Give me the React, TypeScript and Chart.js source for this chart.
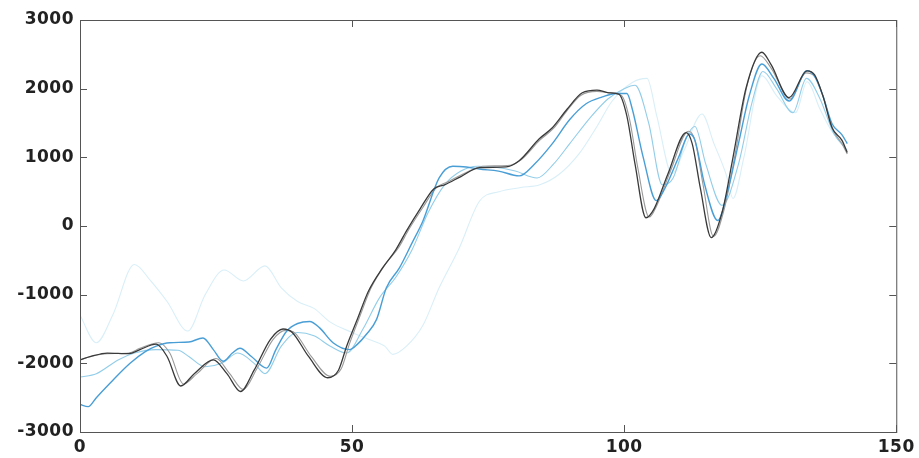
import React, { useEffect, useRef } from "react";
import { Chart, registerables } from "chart.js";

Chart.register(...registerables);

// Axis ranges and tick values
const xTicks = [0, 50, 100, 150];
const yTicks = [-3000, -2000, -1000, 0, 1000, 2000, 3000];

// Series 1 (dark)
const darkX = [0, 2, 5, 9, 11, 14, 16, 18.5, 21, 24.5, 27, 29.5, 32, 35, 37.3, 39, 42, 45.5, 47.5, 49, 51, 53, 55.6, 58, 60, 62.5, 65, 67, 70, 73.4, 78.3, 80.7, 84.4, 86.8, 89.5, 92.3, 95, 97.2, 99, 100.5, 102, 104, 105.5, 108, 111.4, 112.5, 114, 116, 118, 120, 122.4, 125.3, 127, 130.3, 133.6, 135, 136.5, 138.2, 140, 141];
const darkY = [-1950, -1900, -1850, -1860, -1800, -1720, -1900, -2330, -2150, -1950, -2150, -2410, -2100, -1650, -1500, -1550, -1900, -2210, -2100, -1750, -1350, -950, -610, -350, -70, 250, 540, 600, 720, 850, 860, 950, 1270, 1430, 1700, 1940, 1980, 1940, 1920, 1600, 900, 120, 250, 750, 1360, 1200, 550, -170, 200, 1000, 2010, 2530, 2350, 1870, 2260, 2200, 1900, 1430, 1250, 1070];

// Series 2 (gray)
const grayX = [0, 2, 5, 9, 11, 14.5, 16.5, 19, 21.5, 25, 27.5, 30, 32.5, 35.5, 37.8, 39.5, 42.5, 46, 48, 49.5, 51.5, 53.5, 56, 58.5, 60.5, 63, 65.5, 67.5, 70.5, 74, 78.5, 81, 84.5, 87, 89.5, 92, 95, 97.5, 99.5, 101, 102.5, 104.6, 106, 108.5, 111.8, 113, 114.5, 116.4, 118.4, 120.4, 122.6, 125, 127, 130.5, 133.4, 135, 136.6, 138.4, 140, 141];
const grayY = [-1950, -1900, -1860, -1850, -1780, -1700, -1850, -2300, -2150, -1930, -2150, -2380, -2080, -1650, -1520, -1560, -1900, -2190, -2080, -1720, -1300, -900, -570, -320, -40, 270, 560, 640, 760, 870, 880, 960, 1250, 1420, 1680, 1900, 1960, 1940, 1900, 1550, 850, 130, 300, 800, 1380, 1250, 600, -150, 250, 1050, 2050, 2480, 2300, 1850, 2230, 2180, 1880, 1400, 1200, 1050];

// Series 3 (blue)
const blueX = [0, 1.5, 3, 6, 9.2, 12, 14, 16.5, 20, 22.6, 24.5, 26.3, 28, 29.4, 31.5, 34.3, 36, 38, 40, 42.2, 44, 46.5, 49.5, 51, 52.6, 54.5, 56.3, 58.7, 61, 63, 66, 68.5, 71, 73.4, 76.9, 80.7, 83.5, 86.8, 90, 93, 96, 98.5, 100.5, 101.5, 103.5, 105.9, 107.5, 110, 112, 113, 114.8, 117.2, 119, 121, 123, 125.3, 127.5, 130.3, 133.6, 135, 136.5, 138.2, 140, 141];
const blueY = [-2600, -2630, -2500, -2250, -2000, -1830, -1750, -1700, -1690, -1630, -1800, -1970, -1850, -1780, -1900, -2070, -1800, -1530, -1420, -1390, -1480, -1700, -1800, -1720, -1580, -1360, -900, -610, -250, 70, 700, 870, 860, 830, 800, 730, 900, 1200, 1550, 1780, 1880, 1930, 1930, 1700, 1000, 370, 550, 1000, 1340, 1250, 600, 80, 500, 1200, 1900, 2360, 2150, 1820, 2260, 2180, 1900, 1490, 1330, 1200];

// Series 4 (light blue)
const lightX = [0, 3, 7, 10, 14, 18, 20, 23, 26, 29, 32, 34, 37, 40, 43, 46, 49, 52, 55, 58, 61, 64, 67, 70, 73, 76, 80, 84, 87, 90, 94, 97, 100, 102, 104.5, 107, 109, 111.5, 113, 115, 118, 121, 123.5, 125.5, 128, 131, 133.5, 136, 138.5, 141];
const lightY = [-2200, -2150, -1950, -1850, -1800, -1810, -1900, -2050, -2000, -1850, -2000, -2150, -1750, -1550, -1600, -1750, -1850, -1500, -1050, -750, -350, 200, 600, 800, 870, 860, 800, 700, 900, 1200, 1600, 1850, 2000, 2050, 1500, 600, 700, 1300, 1450, 900, 300, 900, 1800, 2250, 2000, 1650, 2150, 1850, 1350, 1100];

// Series 5 (faint cyan, lagged)
const faintX = [0, 3, 6, 10, 13, 16, 19.8, 23, 26.5, 30, 34, 37, 40, 43, 46, 50, 53, 56, 57.5, 60, 63, 66, 69.7, 73.4, 77, 81, 84.5, 88, 91.7, 95, 97.8, 101.5, 104.2, 106, 108.8, 111, 114.3, 116.5, 118.7, 120, 122, 125.3, 128, 131.5, 133.6, 136, 138, 140.7];
const faintY = [-1300, -1700, -1300, -560, -800, -1100, -1530, -1000, -640, -800, -580, -900, -1100, -1200, -1400, -1550, -1650, -1750, -1870, -1750, -1450, -900, -320, 360, 500, 560, 600, 750, 1050, 1450, 1820, 2090, 2150, 1600, 760, 1100, 1630, 1200, 760, 400, 1000, 2190, 1900, 1650, 2100, 1700, 1400, 1140];

const toPoints = (xs: number[], ys: number[]) => xs.map((x, i) => ({ x, y: ys[i] }));

const LEFT = 80;
const TOP = 20;
const RIGHT_GAP = 21;
const BOTTOM_H = 26;

// Slightly opened tick lettering
const spacingPlugin = {
  id: "spacing",
  beforeDraw(chart: any) {
    chart.ctx.letterSpacing = "0.5px";
  },
};

// Box around the plot area with inward ticks on all four sides
const framePlugin = {
  id: "frame",
  afterDatasetsDraw(chart: any) {
    const { ctx, chartArea, scales } = chart;
    const { left, right, top, bottom } = chartArea;
    const len = 7;
    ctx.save();
    ctx.strokeStyle = "#555";
    ctx.lineWidth = 1;
    ctx.strokeRect(left + 0.5, top + 0.5, right - left, bottom - top);
    ctx.beginPath();
    for (const v of yTicks) {
      const y = Math.round(scales.y.getPixelForValue(v)) + 0.5;
      ctx.moveTo(left, y);
      ctx.lineTo(left + len, y);
      ctx.moveTo(right, y);
      ctx.lineTo(right - len, y);
    }
    for (const v of xTicks) {
      const x = Math.round(scales.x.getPixelForValue(v)) + 0.5;
      ctx.moveTo(x, bottom);
      ctx.lineTo(x, bottom - len);
      ctx.moveTo(x, top);
      ctx.lineTo(x, top + len);
    }
    ctx.stroke();
    ctx.restore();
  },
};

export default function App() {
  const ref = useRef<HTMLCanvasElement | null>(null);

  useEffect(() => {
    if (!ref.current) return;
    const font = { family: "'DejaVu Sans', sans-serif", size: 17, weight: "bold" as const };
    const line = (label: string, xs: number[], ys: number[], color: string, width: number, order: number) => ({
      label,
      data: toPoints(xs, ys),
      borderColor: color,
      backgroundColor: color,
      borderWidth: width,
      pointRadius: 0,
      fill: false,
      cubicInterpolationMode: "monotone" as const,
      order,
    });
    const chart = new Chart(ref.current, {
      type: "line",
      data: {
        datasets: [
          line("s1", darkX, darkY, "#3a3a3a", 1.3, 1),
          line("s3", blueX, blueY, "#4a9ed6", 1.4, 2),
          line("s2", grayX, grayY, "#9a9a9a", 1.1, 3),
          line("s4", lightX, lightY, "#92cde9", 1.1, 4),
          line("s5", faintX, faintY, "#d9eff8", 1.1, 5),
        ],
      },
      options: {
        responsive: false,
        animation: false,
        layout: { padding: { left: 0, top: TOP, right: RIGHT_GAP, bottom: 0 } },
        plugins: { legend: { display: false }, tooltip: { enabled: false } },
        scales: {
          x: {
            type: "linear",
            min: 0,
            max: 150,
            afterBuildTicks: (s: any) => {
              s.ticks = xTicks.map((v) => ({ value: v }));
            },
            afterFit: (s: any) => {
              s.height = BOTTOM_H;
            },
            grid: { display: false, drawTicks: false },
            border: { display: false },
            ticks: { font, color: "#222", padding: 5, maxRotation: 0, callback: (v: any) => String(v) },
          },
          y: {
            type: "linear",
            min: -3000,
            max: 3000,
            afterBuildTicks: (s: any) => {
              s.ticks = yTicks.map((v) => ({ value: v }));
            },
            afterFit: (s: any) => {
              s.width = LEFT;
            },
            grid: { display: false, drawTicks: false },
            border: { display: false },
            ticks: { font, color: "#222", padding: 6, callback: (v: any) => String(v) },
          },
        },
      },
      plugins: [spacingPlugin, framePlugin],
    });
    return () => chart.destroy();
  }, []);

  return (
    <div style={{ position: "fixed", left: 0, top: 0, width: 919, height: 458, background: "#fff" }}>
      <canvas ref={ref} width={919} height={458} style={{ display: "block" }} />
    </div>
  );
}
